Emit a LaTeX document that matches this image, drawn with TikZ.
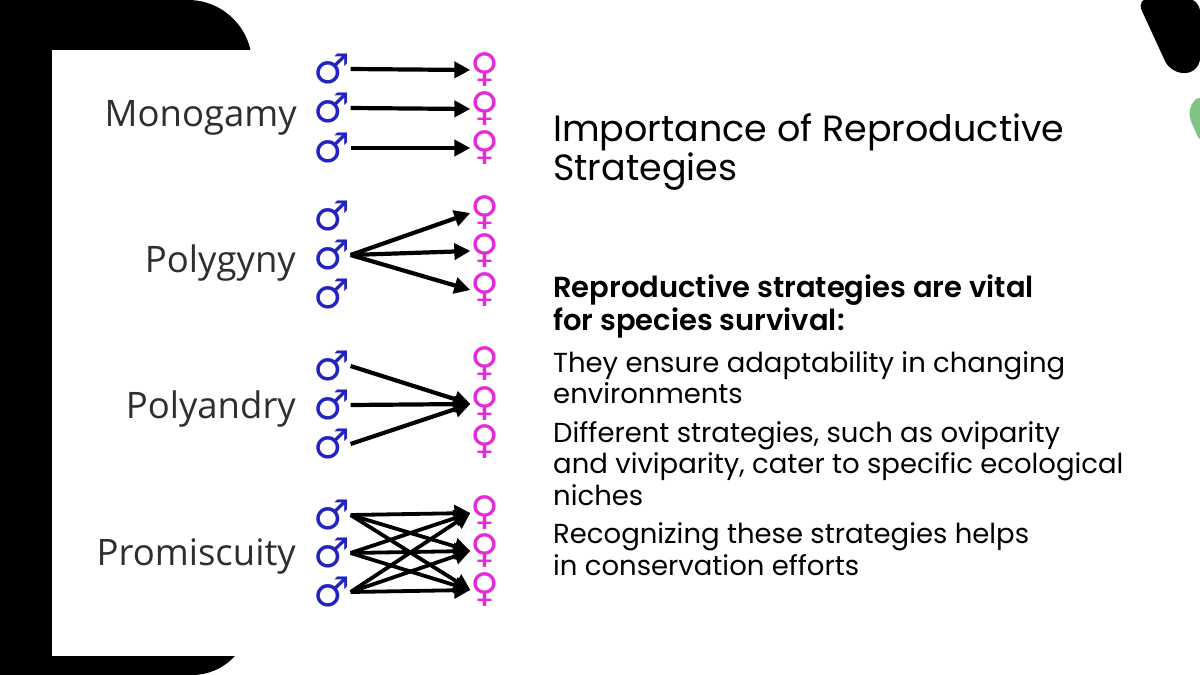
\documentclass[tikz,border=0pt]{standalone}
\usepackage{fontspec}
\setmainfont{Poppins}
\newfontfamily\labelfont{Open Sans}
\newfontfamily\symfont{DejaVu Sans}
\newfontfamily\subfont{Poppins SemiBold}
\usetikzlibrary{arrows.meta}
\definecolor{maleblue}{HTML}{2323C0}
\definecolor{femmag}{HTML}{E52AD9}
\definecolor{labelgray}{HTML}{2E2E2E}
\definecolor{leafgreen}{HTML}{7FC483}
\begin{document}
\begin{tikzpicture}[x=1pt,y=-1pt,
  male/.style={inner sep=0pt,text=maleblue,font=\symfont\fontsize{41}{41}\selectfont},
  female/.style={inner sep=0pt,text=femmag,font=\symfont\fontsize{39.5}{40}\selectfont},
  arr/.style={line width=4.2pt,-{Triangle[length=16pt,width=16pt]}},
  lab/.style={anchor=base east,inner sep=0pt,text=labelgray,font=\labelfont\fontsize{36.5}{36}\selectfont},
  ttl/.style={anchor=base west,inner sep=0pt,font=\fontsize{36.5}{40}\selectfont},
  sub/.style={anchor=base west,inner sep=0pt,font=\subfont\fontsize{29}{33}\selectfont},
  bod/.style={anchor=base west,inner sep=0pt,font=\fontsize{27.5}{31}\selectfont}]
\useasboundingbox (0,0) rectangle (1200,675);
\fill[white] (0,0) rectangle (1200,675);
% left black frame
\fill[black] (0,0) -- (188,0) arc[start angle=-90,end angle=0,radius=64] -- (250,617)
  arc[start angle=0,end angle=90,radius=58] -- (0,675) -- cycle;
\fill[white] (52,50) rectangle (520,656);
% top right black shape
\fill[black,rounded corners=14pt] (1136,-2) -- (1171,74) -- (1200,72) -- (1200,-2) -- cycle;
\fill[black] (1136,0) rectangle (1200,-2);
% green shape
\fill[leafgreen,rounded corners=12pt] (1202,92) -- (1186,110) -- (1202,146) -- cycle;

% labels
\node[lab] (lmono) at (297,126) {Monogamy};
\node[lab] (lpgy) at (296,272) {Polygyny};
\node[lab] (lpan) at (296,418) {Polyandry};
\node[lab] (lpro) at (296,565) {Promiscuity};

% Monogamy
\node[male] (ma1) at (332,69) {♂};
\node[male] (ma2) at (332,108) {♂};
\node[male] (ma3) at (332,148) {♂};
\node[female] (fa1) at (485,70) {♀};
\node[female] (fa2) at (485,109) {♀};
\node[female] (fa3) at (485,148) {♀};
\draw[arr] (ma1.east) -- (fa1.west);
\draw[arr] (ma2.east) -- (fa2.west);
\draw[arr] (ma3.east) -- (fa3.west);

% Polygyny
\node[male] (mb1) at (332,216) {♂};
\node[male] (mb2) at (332,255) {♂};
\node[male] (mb3) at (332,294) {♂};
\node[female] (fb1) at (485,213) {♀};
\node[female] (fb2) at (485,251) {♀};
\node[female] (fb3) at (485,290) {♀};
\draw[arr] (mb2.east) -- (fb1.west);
\draw[arr] (mb2.east) -- (fb2.west);
\draw[arr] (mb2.east) -- (fb3.west);

% Polyandry
\node[male] (mc1) at (332,366) {♂};
\node[male] (mc2) at (332,405) {♂};
\node[male] (mc3) at (332,444) {♂};
\node[female] (fc1) at (485,364) {♀};
\node[female] (fc2) at (485,404) {♀};
\node[female] (fc3) at (485,442) {♀};
\draw[arr] (mc1.east) -- (fc2.west);
\draw[arr] (mc2.east) -- (fc2.west);
\draw[arr] (mc3.east) -- (fc2.west);

% Promiscuity
\node[male] (md1) at (332,515) {♂};
\node[male] (md2) at (332,553) {♂};
\node[male] (md3) at (332,592) {♂};
\node[female] (fd1) at (485,513) {♀};
\node[female] (fd2) at (485,551) {♀};
\node[female] (fd3) at (485,590) {♀};
\foreach \i in {1,2,3}{\foreach \j in {1,2,3}{
  \draw[arr,line width=3.8pt] (md\i.east) -- (fd\j.west);}}

% right text
\node[ttl] (t1) at (553,141) {Importance of Reproductive};
\node[ttl] (t2) at (553,180) {Strategies};
\node[sub] (s1) at (553,297) {Reproductive strategies are vital};
\node[sub] (s2) at (553,330) {for species survival:};
\node[bod] (b1) at (553,372) {They ensure adaptability in changing};
\node[bod] (b2) at (553,403) {environments};
\node[bod] (b3) at (553,442) {Different strategies, such as oviparity};
\node[bod] (b4) at (553,473) {and viviparity, cater to specific ecological};
\node[bod] (b5) at (553,505) {niches};
\node[bod] (b6) at (553,543) {Recognizing these strategies helps};
\node[bod] (b7) at (553,575) {in conservation efforts};
\end{tikzpicture}
\end{document}
